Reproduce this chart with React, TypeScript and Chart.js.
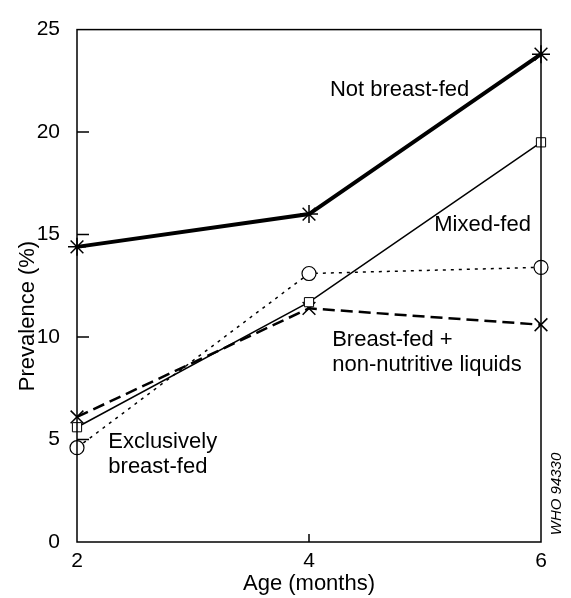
import React, { useEffect, useRef } from "react";
import { Chart, registerables } from "chart.js";

Chart.register(...registerables);

const ages = [2, 4, 6];
const notBreastFed = [14.4, 16.0, 23.8];
const mixedFed = [5.6, 11.7, 19.5];
const exclusivelyBreastFed = [4.6, 13.1, 13.4];
const breastFedNonNutritive = [6.1, 11.4, 10.6];

const xTitle = "Age (months)";
const yTitle = "Prevalence (%)";
const credit = "WHO 94330";

// text labels placed in data coordinates (left edge, baseline of first line)
const labelTexts = [
  ["Not breast-fed"],
  ["Mixed-fed"],
  ["Breast-fed +", "non-nutritive liquids"],
  ["Exclusively", "breast-fed"],
];
const labelX = [4.18, 5.08, 4.2, 2.27];
const labelY = [21.75, 15.17, 9.54, 4.58];

const FONT = "'Liberation Sans', Arial, Helvetica, sans-serif";

const overlay = {
  id: "overlay",
  afterDraw(chart: any) {
    const { ctx, chartArea, scales } = chart;
    const { left, right, top, bottom } = chartArea;
    const xs = scales.x;
    const ys = scales.y;
    ctx.save();
    ctx.strokeStyle = "#000";
    ctx.lineWidth = 1.5;
    ctx.strokeRect(left, top, right - left, bottom - top);
    // inward ticks
    ctx.beginPath();
    [5, 10, 15, 20].forEach((v) => {
      const y = ys.getPixelForValue(v);
      ctx.moveTo(left, y);
      ctx.lineTo(left + 12, y);
    });
    const x4 = xs.getPixelForValue(4);
    ctx.moveTo(x4, bottom);
    ctx.lineTo(x4, bottom - 8);
    ctx.stroke();

    ctx.fillStyle = "#000";
    ctx.font = `22px ${FONT}`;
    ctx.textBaseline = "alphabetic";
    ctx.textAlign = "left";
    labelTexts.forEach((lines, i) => {
      const px = xs.getPixelForValue(labelX[i]);
      const py = ys.getPixelForValue(labelY[i]);
      lines.forEach((t, j) => ctx.fillText(t, px, py + j * 25));
    });

    // axis titles
    ctx.font = `22px ${FONT}`;
    ctx.textAlign = "center";
    ctx.fillText(xTitle, (left + right) / 2, 590);
    ctx.save();
    ctx.translate(34, 316);
    ctx.rotate(-Math.PI / 2);
    ctx.fillText(yTitle, 0, 0);
    ctx.restore();

    ctx.save();
    ctx.font = `italic 15px ${FONT}`;
    ctx.translate(561, 494);
    ctx.rotate(-Math.PI / 2);
    ctx.fillText(credit, 0, 0);
    ctx.restore();
    ctx.restore();
  },
};

export default function App() {
  const ref = useRef<HTMLCanvasElement>(null);
  useEffect(() => {
    document.body.style.margin = "0";
    const mk = (d: number[]) => ages.map((a, i) => ({ x: a, y: d[i] }));
    const chart = new Chart(ref.current as HTMLCanvasElement, {
      type: "line",
      data: {
        datasets: [
          {
            label: "Not breast-fed",
            data: mk(notBreastFed),
            borderColor: "#000",
            backgroundColor: "#000",
            borderWidth: 4,
            pointStyle: "star",
            pointRadius: 9,
            pointBorderWidth: 1.5,
            clip: false,
          },
          {
            label: "Mixed-fed",
            data: mk(mixedFed),
            borderColor: "#000",
            backgroundColor: "#fff",
            borderWidth: 1.5,
            pointStyle: "rect",
            pointRadius: 6.5,
            pointBorderWidth: 1,
            clip: false,
          },
          {
            label: "Exclusively breast-fed",
            data: mk(exclusivelyBreastFed),
            borderColor: "#000",
            backgroundColor: "#fff",
            borderWidth: 1.5,
            borderDash: [3, 5],
            pointStyle: "circle",
            pointRadius: 7,
            pointBorderWidth: 1.2,
            clip: false,
          },
          {
            label: "Breast-fed + non-nutritive liquids",
            data: mk(breastFedNonNutritive),
            borderColor: "#000",
            backgroundColor: "#000",
            borderWidth: 2.5,
            borderDash: [12, 6],
            pointStyle: "crossRot",
            pointRadius: 9,
            pointBorderWidth: 1.5,
            clip: false,
          },
        ],
      },
      options: {
        responsive: false,
        animation: false,
        layout: { padding: { top: 19, right: 30, left: 0, bottom: 0 } },
        plugins: { legend: { display: false }, tooltip: { enabled: false } },
        scales: {
          x: {
            type: "linear",
            min: 2,
            max: 6,
            grid: { display: false, drawTicks: false },
            border: { display: false },
            ticks: {
              stepSize: 2,
              color: "#000",
              padding: 7,
              font: { family: FONT, size: 21 },
            },
            afterFit: (s: any) => {
              s.height = 56;
            },
          },
          y: {
            min: 0,
            max: 25,
            grid: { display: false, drawTicks: false },
            border: { display: false },
            ticks: {
              stepSize: 5,
              color: "#000",
              padding: 17,
              font: { family: FONT, size: 21 },
            },
            afterFit: (s: any) => {
              s.width = 77;
            },
          },
        },
      },
      plugins: [overlay],
    });
    return () => chart.destroy();
  }, []);
  return (
    <div style={{ width: 571, height: 598, background: "#fff" }}>
      <canvas ref={ref} width={571} height={598} />
    </div>
  );
}
